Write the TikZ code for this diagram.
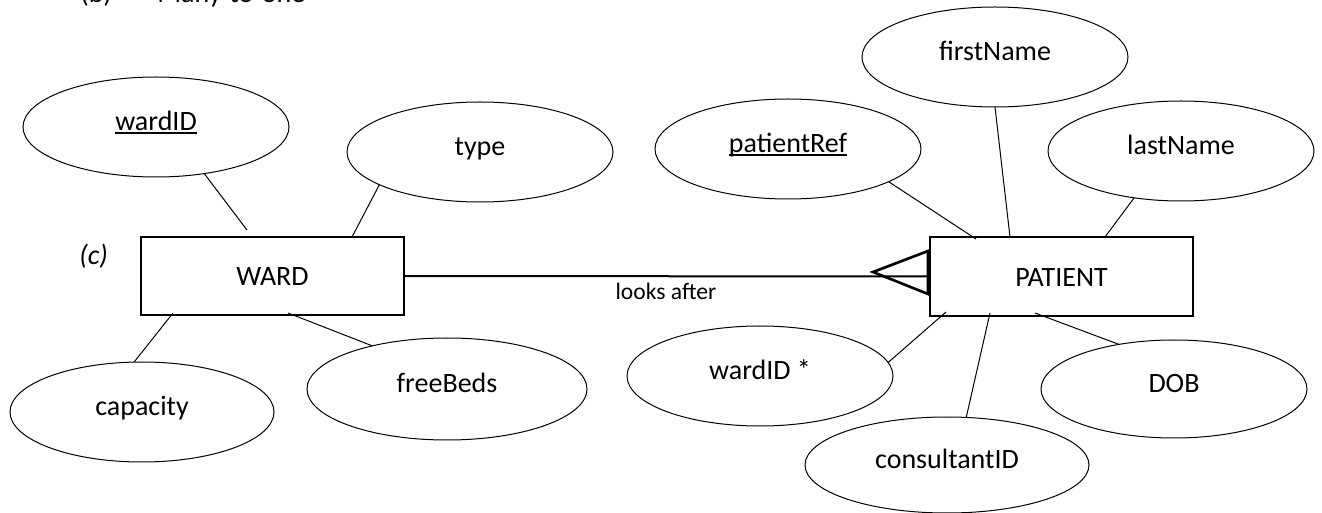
\documentclass[tikz,border=0pt]{standalone}
\usepackage{fontspec}
\setmainfont{Carlito}
\usetikzlibrary{shapes.geometric,calc}
\newcommand{\attrul}[1]{\setbox0=\hbox{#1}\leavevmode\rlap{\rule[-2.6pt]{\wd0}{1.1pt}}\box0}
\begin{document}
\begin{tikzpicture}[x=0.75pt,y=-0.75pt,
  bigtext/.style={font=\fontsize{21}{25}\selectfont},
  attr/.style={ellipse, draw, line width=0.75pt, inner sep=0pt, outer sep=0pt,
    text height=12pt, text depth=6.75pt, minimum width=199.5pt, minimum height=75pt, bigtext},
  entity/.style={rectangle, draw, line width=1.75pt, inner sep=0pt, outer sep=0pt,
    minimum width=197.25pt, text depth=0pt, bigtext},
  link/.style={line width=0.75pt},
  rel/.style={line width=1.5pt},
  manymark/.style={line width=2pt, line join=miter},
  caption/.style={anchor=base west, inner sep=0pt, bigtext}]
\useasboundingbox (0,0) rectangle (1322,513);
\clip (0,0) rectangle (1322,513);
\fill[white] (0,0) rectangle (1322,513);

% caption texts
\node[caption] (lblb) at (80,3) {(b)};
\node[caption] (lblbtext) at (157,3) {Many-to-one};
\node[caption, font=\fontsize{21}{25}\selectfont\itshape] (lblc) at (79,265) {(c)};

% entities
\node[entity, minimum height=58.5pt, text height=15pt] (ward) at (272.5,276) {WARD};
\node[entity, minimum height=59.25pt, text height=14.5pt] (patient) at (1061.5,276.5) {PATIENT};

% attributes of WARD
\node[attr] (wardID) at (156,127) {\attrul{wardID}};
\node[attr] (type) at (480,152) {type};
\node[attr, minimum width=198pt] (capacity) at (142,412) {capacity};
\node[attr, minimum width=210pt, minimum height=76.5pt] (freeBeds) at (447,389) {freeBeds};

% attributes of PATIENT
\node[attr] (patientRef) at (788,149) {\attrul{patientRef}};
\node[attr] (firstName) at (995,57) {firstName};
\node[attr] (lastName) at (1181,151) {lastName};
\node[attr] (wardIDfk) at (760,376) {wardID *};
\node[attr, minimum width=213pt, minimum height=72pt] (consultantID) at (947,465) {consultantID};
\node[attr, minimum height=73.5pt] (DOB) at (1174,389) {DOB};

% connectors WARD
\draw[link] (wardID.-44.4) -- ($(ward.north west)+(106,-7)$);
\draw[link] (type.198.6) -- ($(ward.north west)+(211,0)$);
\draw[link] (capacity.99.1) -- ($(ward.south west)+(32,-2)$);
\draw[link] (freeBeds.150.5) -- ($(ward.south west)+(147,-2)$);

% connectors PATIENT
\draw[link] (patientRef.-18.1) -- ($(patient.north west)+(46,2)$);
\draw[link] (firstName.-90) -- ($(patient.north west)+(80,0)$);
\draw[link] (lastName.225) -- ($(patient.north west)+(175,0)$);
\draw[link] (wardIDfk.6.2) -- ($(patient.south west)+(16,-4)$);
\draw[link] (consultantID.68.4) -- ($(patient.south west)+(60,-3)$);
\draw[link] (DOB.141) -- ($(patient.south west)+(105,-3)$);

% relationship
\draw[rel] (ward.east) -- node[pos=0.498, anchor=base, inner sep=0pt, yshift=-17.25pt,
  font=\fontsize{17.7}{21}\selectfont] (relname) {looks after} (patient.west);
\draw[manymark] ($(patient.west)+(-2,-25.5)$) -- ($(patient.west)+(-57,-4.5)$)
  -- ($(patient.west)+(-2,17.5)$) -- cycle;
\end{tikzpicture}
\end{document}
